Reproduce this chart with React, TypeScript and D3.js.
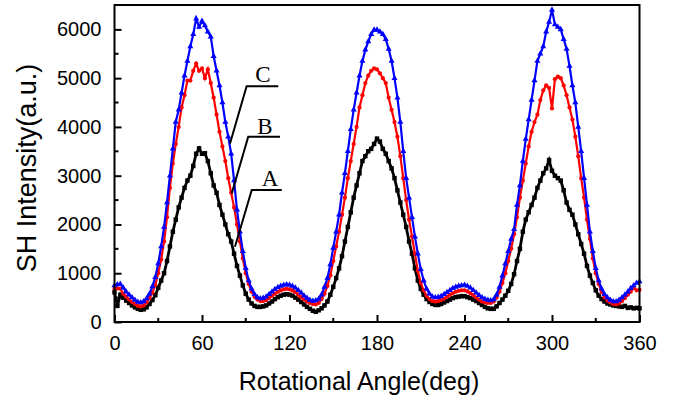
import React, { useRef, useEffect } from 'react';
import * as d3 from 'd3';

// angle step of the scan, degrees
const angles = d3.range(0, 361, 2);

// sample A (black, squares)
const seriesA = [
  610, 330, 560, 500, 440, 390, 340, 300, 270, 250,
  260, 300, 370, 450, 550, 700, 850, 1000, 1250, 1550,
  1850, 2100, 2350, 2550, 2750, 2900, 3000, 3200, 3450, 3560,
  3450, 3460, 3300, 3050, 2800, 2650, 2400, 2200, 2000, 1800,
  1650, 1400, 1150, 950, 750, 580, 460, 380, 330, 310,
  310, 320, 340, 380, 420, 470, 510, 540, 560, 570,
  560, 540, 500, 460, 410, 360, 310, 270, 230, 210,
  240, 280, 340, 420, 560, 720, 900, 1100, 1350, 1650,
  1950, 2250, 2550, 2800, 3050, 3300, 3400, 3500, 3550, 3650,
  3760, 3700, 3550, 3450, 3300, 3150, 2950, 2700, 2450, 2200,
  1950, 1650, 1400, 1100, 850, 680, 560, 470, 410, 370,
  350, 350, 370, 400, 430, 460, 490, 510, 520, 530,
  530, 510, 490, 460, 430, 390, 350, 310, 280, 270,
  270, 320, 390, 460, 540, 640, 780, 980, 1250, 1500,
  1850, 2100, 2250, 2400, 2550, 2750, 2900, 3050, 3150, 3320,
  3100, 3000, 2950, 2900, 2700, 2450, 2300, 2200, 2000, 1800,
  1600, 1400, 1150, 950, 800, 650, 540, 470, 420, 380,
  360, 340, 330, 320, 310, 330, 290, 300, 280, 290,
  280,
];

// sample B (red, circles)
const seriesB = [
  680, 690, 680, 580, 520, 460, 410, 370, 330, 320,
  340, 400, 490, 600, 760, 1000, 1280, 1650, 2150, 2750,
  3250, 3650, 4000, 4400, 4650, 4950, 4950, 5150, 5300, 5150,
  5200, 5000, 5180, 4900, 4600, 4250, 3900, 3600, 3300, 2950,
  2650, 2350, 2000, 1650, 1300, 1000, 780, 620, 520, 460,
  430, 430, 450, 490, 540, 580, 620, 650, 670, 680,
  670, 650, 610, 560, 510, 460, 420, 390, 370, 360,
  390, 470, 580, 740, 960, 1250, 1550, 1850, 2200, 2550,
  2950, 3300, 3650, 4000, 4400, 4650, 4900, 5050, 5150, 5200,
  5180, 5100, 5000, 4900, 4600, 4350, 4100, 3800, 3400, 2950,
  2500, 2100, 1750, 1400, 1050, 800, 650, 540, 470, 430,
  420, 430, 450, 480, 520, 560, 590, 620, 640, 650,
  650, 630, 590, 550, 500, 460, 420, 400, 390, 390,
  420, 500, 620, 800, 1000, 1250, 1500, 1800, 2150, 2550,
  2900, 3250, 3600, 3900, 4100, 4250, 4550, 4750, 4850, 4800,
  4380, 4980, 5030, 5000, 4850, 4650, 4400, 4150, 3800, 3400,
  2950, 2550, 2100, 1700, 1300, 1000, 780, 620, 510, 440,
  400, 370, 360, 380, 430, 490, 560, 620, 700, 650,
  660,
];

// sample C (blue, triangles)
const seriesC = [
  750, 770, 780, 700, 620, 560, 500, 450, 410, 400,
  420, 480, 580, 730, 920, 1200, 1550, 1950, 2450, 3000,
  3550, 4100, 4350, 4700, 5050, 5350, 5650, 5900, 6220, 6050,
  6170, 6080, 5950, 5850, 5450, 5150, 4850, 4500, 4100, 3800,
  3450, 2900, 2300, 1850, 1450, 1100, 850, 680, 570, 500,
  480, 490, 520, 570, 620, 670, 710, 740, 760, 770,
  760, 740, 700, 650, 600, 540, 490, 450, 430, 440,
  470, 560, 720, 900, 1180, 1520, 1850, 2200, 2650, 3050,
  3500, 3950, 4350, 4700, 5050, 5350, 5580, 5750, 5900, 5990,
  5990, 5950, 5900, 5800, 5600, 5350, 5000, 4600, 4100, 3500,
  2950, 2550, 2150, 1750, 1400, 1080, 850, 680, 580, 520,
  500, 510, 530, 570, 610, 650, 690, 720, 740, 750,
  760, 740, 700, 650, 600, 550, 500, 470, 450, 440,
  460, 560, 720, 950, 1200, 1450, 1700, 1900, 2400, 2800,
  3300, 3750, 4150, 4550, 4950, 5350, 5500, 5650, 5950, 6150,
  6400, 6100, 6050, 6000, 5800, 5600, 5250, 4850, 4500, 4000,
  3500, 2950, 2400, 1850, 1450, 1100, 850, 680, 570, 500,
  450, 420, 420, 450, 500, 560, 620, 690, 750, 800,
  830,
];

const xTicks = [0, 60, 120, 180, 240, 300, 360];
const xMinorTicks = [30, 90, 150, 210, 270, 330];
const yTicks = [0, 1000, 2000, 3000, 4000, 5000, 6000];
const yMinorTicks = [500, 1500, 2500, 3500, 4500, 5500, 6500];

// callout labels: text anchor, elbow, end of the leader line (angle, intensity)
const calloutNames = ['C', 'B', 'A'];
const calloutText = [[101.8, 4920], [103.2, 3850], [106.6, 2780]];
const calloutElbow = [[90.6, 4836], [91.7, 3797], [94.1, 2705]];
const calloutEnd = [[112.3, 4836], [113.5, 3797], [114.7, 2705]];
const calloutTip = [[79.2, 3662], [80.4, 2637], [82.6, 1543]];

const W = 678;
const H = 403;

const SHChart = () => {
  const svgRef = useRef(null);

  useEffect(() => {
    const svg = d3.select(svgRef.current);
    svg.selectAll('*').remove();

    const x = d3.scaleLinear().domain([0, 360]).range([114.5, 639.5]);
    const y = d3.scaleLinear().domain([0, 6500]).range([322, 5]);

    const sans = 'Liberation Sans, Arial, sans-serif';

    const line = d3.line()
      .x(d => x(d[0]))
      .y(d => y(d[1]));

    const series = [
      { values: seriesA, color: '#000000', symbol: d3.symbolSquare, size: 20, width: 2.8 },
      { values: seriesB, color: '#ff0000', symbol: d3.symbolCircle, size: 14, width: 2.2 },
      { values: seriesC, color: '#0000ff', symbol: d3.symbolTriangle, size: 16, width: 2.2 },
    ];

    series.forEach(s => {
      const pts = angles.map((a, i) => [a, s.values[i]]);
      const g = svg.append('g');
      g.append('path')
        .attr('d', line(pts))
        .attr('fill', 'none')
        .attr('stroke', s.color)
        .attr('stroke-width', s.width);
      g.selectAll('path.m')
        .data(pts)
        .join('path')
        .attr('class', 'm')
        .attr('transform', d => `translate(${x(d[0])},${y(d[1])})`)
        .attr('d', d3.symbol().type(s.symbol).size(s.size)())
        .attr('fill', s.color);
    });

    // frame
    svg.append('rect')
      .attr('x', x(0))
      .attr('y', y(6500))
      .attr('width', x(360) - x(0))
      .attr('height', y(0) - y(6500))
      .attr('fill', 'none')
      .attr('stroke', '#000')
      .attr('stroke-width', 2);

    // bottom axis, ticks inward
    const xAxis = svg.append('g').attr('transform', `translate(0,${y(0)})`);
    xAxis.call(d3.axisBottom(x).tickValues(xTicks).tickSize(-7).tickPadding(14))
      .call(g => g.select('.domain').remove())
      .call(g => g.selectAll('line').attr('stroke-width', 2))
      .call(g => g.selectAll('text')
        .attr('font-family', sans)
        .attr('font-size', 20)
        .attr('fill', '#000'));
    xAxis.selectAll('line.minor')
      .data(xMinorTicks)
      .join('line')
      .attr('class', 'minor')
      .attr('x1', d => x(d)).attr('x2', d => x(d))
      .attr('y1', 0).attr('y2', -4)
      .attr('stroke', '#000')
      .attr('stroke-width', 2);

    // left axis, ticks inward
    const yAxis = svg.append('g').attr('transform', `translate(${x(0)},0)`);
    yAxis.call(d3.axisLeft(y).tickValues(yTicks).tickFormat(d3.format('d')).tickSize(-7).tickPadding(13))
      .call(g => g.select('.domain').remove())
      .call(g => g.selectAll('line').attr('stroke-width', 2))
      .call(g => g.selectAll('text')
        .attr('font-family', sans)
        .attr('font-size', 20)
        .attr('fill', '#000'));
    yAxis.selectAll('line.minor')
      .data(yMinorTicks)
      .join('line')
      .attr('class', 'minor')
      .attr('x1', 0).attr('x2', 4)
      .attr('y1', d => y(d)).attr('y2', d => y(d))
      .attr('stroke', '#000')
      .attr('stroke-width', 2);

    // axis titles
    svg.append('text')
      .attr('x', 359)
      .attr('y', 390)
      .attr('text-anchor', 'middle')
      .attr('font-family', sans)
      .attr('font-size', 25)
      .text('Rotational Angle(deg)');

    svg.append('text')
      .attr('transform', 'translate(36,168) rotate(-90)')
      .attr('text-anchor', 'middle')
      .attr('font-family', sans)
      .attr('font-size', 27)
      .text('SH Intensity(a.u.)');

    // callouts
    calloutNames.forEach((name, i) => {
      const tip = calloutTip[i];
      const elbow = calloutElbow[i];
      const end = calloutEnd[i];
      svg.append('path')
        .attr('d', `M${x(tip[0])},${y(tip[1])}L${x(elbow[0])},${y(elbow[1])}L${x(end[0])},${y(end[1])}`)
        .attr('fill', 'none')
        .attr('stroke', '#000')
        .attr('stroke-width', 2);
      svg.append('text')
        .attr('x', x(calloutText[i][0]))
        .attr('y', y(calloutText[i][1]))
        .attr('text-anchor', 'middle')
        .attr('font-family', 'Liberation Serif, Times New Roman, serif')
        .attr('font-size', 23)
        .text(name);
    });
  }, []);

  return (
    <svg
      ref={svgRef}
      width={W}
      height={H}
      viewBox={`0 0 ${W} ${H}`}
      style={{ position: 'absolute', left: 0, top: 0, background: '#fff' }}
    />
  );
};

export default function App() {
  return <SHChart />;
}
